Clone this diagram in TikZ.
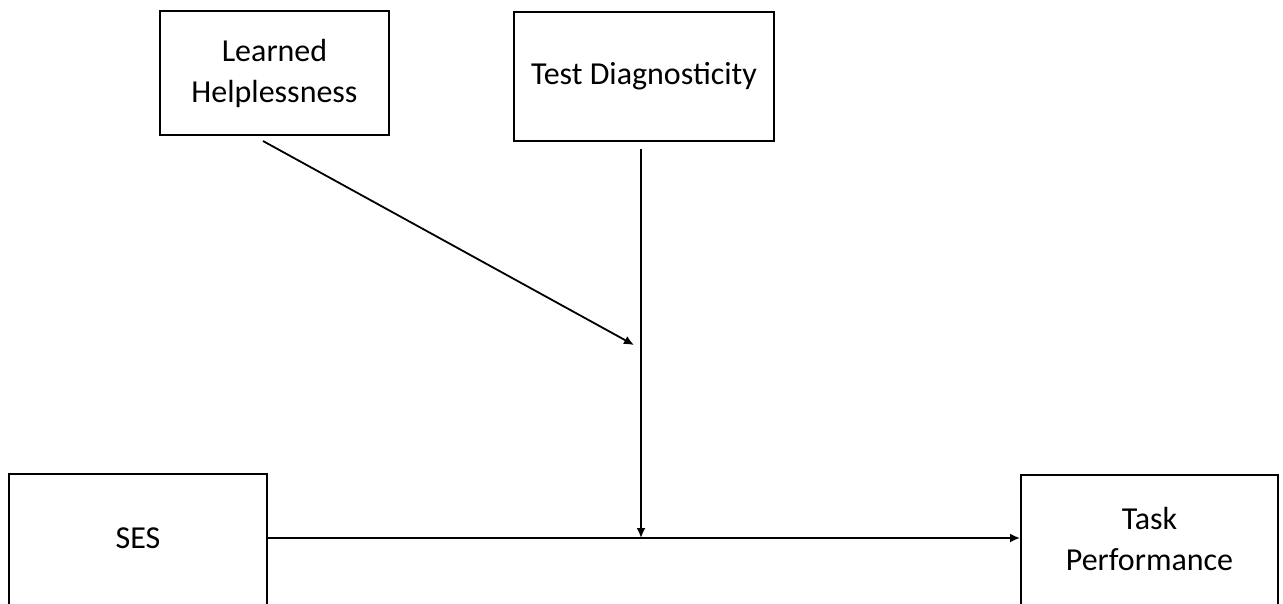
\documentclass[tikz,border=0pt]{standalone}
\usepackage{fontspec}
\setmainfont{Carlito}
\usetikzlibrary{arrows.meta}
\usetikzlibrary{positioning}

\tikzset{
    varbox/.style={draw, line width=2pt, align=center, inner sep=0pt,
        font=\fontsize{32}{41}\selectfont},
    path/.style={line width=1.8pt, -{Latex[length=10pt,width=9pt]}}
}

\begin{document}
\begin{tikzpicture}[x=1pt, y=-1pt]

    % Frame
    \useasboundingbox (0,0) rectangle (1283,603);

    % Variables
    \node [varbox, minimum width=229pt, minimum height=124pt] (lh) at (274.5,73) {Learned\\Helplessness};
    \node [varbox, minimum width=260pt, minimum height=129pt] (td) at (644,76) {Test Diagnosticity};
    \node [varbox, minimum width=258pt, minimum height=136pt, text depth=8pt] (ses) at (138,542) {SES};
    \node [varbox, minimum width=257pt, minimum height=136pt, text depth=8pt] (task) at (1149.5,543) {Task\\Performance};

    % Connector points
    \coordinate (tdout) at (641,149);
    \coordinate (lhout) at (263,141);
    \coordinate (lhin) at (634,345);
    \coordinate (main) at (641,538);

    % Paths
    \draw [path] (ses.east |- main) -- (task.west |- main);
    \draw [path] (tdout) -- (main);
    \draw [path] (lhout) -- (lhin);

\end{tikzpicture}
\end{document}
